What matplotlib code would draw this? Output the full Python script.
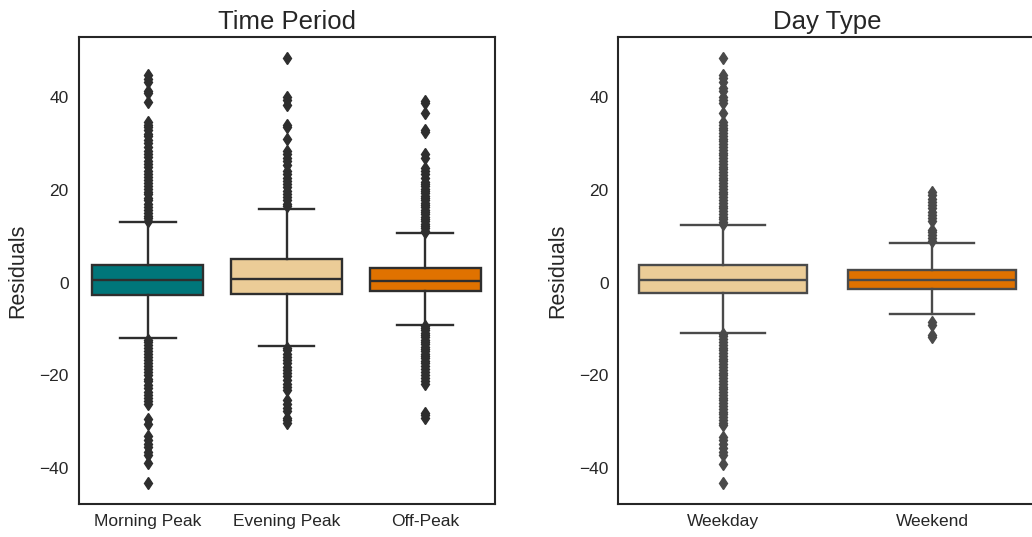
import matplotlib
matplotlib.use("Agg")
import matplotlib.pyplot as plt

# 残差箱线图：按时段 / 按日类型
plt.rcParams['font.family'] = ['Liberation Sans', 'DejaVu Sans']

period_names = ["Morning Peak", "Evening Peak", "Off-Peak"]
period_colors = ["#00767A", "#EBCC97", "#E07200"]
period_med = [0.5, 0.7, 0.4]
period_q1 = [-2.7, -2.4, -1.8]
period_q3 = [3.7, 5.0, 3.2]
period_lo = [-12.0, -13.7, -9.1]
period_hi = [13.0, 15.9, 10.7]
period_fliers = [
    [44.7, 43.8, 43.1, 41.3, 40.8, 38.8, 34.6, 34.0, 33.5, 32.8, 32.1, 31.5,
     30.8, 30.0, 29.2, 28.3, 27.6, 27.0, 26.2, 25.5, 24.8, 24.0, 23.4, 22.8,
     22.1, 21.5, 20.9, 20.2, 19.6, 19.0, 18.3, 17.7, 17.0, 16.3, 15.6, 15.0,
     14.4, 13.8, 13.3,
     -12.3, -12.8, -13.4, -14.0, -14.7, -15.3, -16.0, -16.6, -17.3, -18.0,
     -18.6, -19.3, -20.0, -20.7, -21.3, -22.0, -22.8, -23.5, -24.2, -24.9,
     -25.6, -26.2, -29.5, -30.4, -33.1, -34.0, -34.8, -35.5, -36.4, -37.2,
     -38.8, -43.1],
    [48.3, 39.9, 39.3, 38.3, 34.0, 33.5, 30.9, 28.4, 27.6, 26.9, 26.2, 25.4,
     24.0, 23.3, 22.6, 21.9, 21.2, 20.5, 19.8, 19.1, 18.4, 17.7, 17.0, 16.5,
     -14.0, -14.6, -15.3, -16.0, -16.7, -17.4, -18.1, -18.8, -19.5, -20.2,
     -21.0, -21.8, -22.5, -23.2, -25.4, -26.2, -27.0, -27.6, -29.1, -29.7,
     -30.2],
    [39.2, 38.6, 36.5, 32.8, 32.4, 27.6, 26.9, 24.7, 24.0, 23.3, 22.5, 21.7,
     21.2, 20.7, 20.2, 19.7, 19.2, 18.7, 18.2, 17.7, 17.2, 16.7, 16.2, 15.7,
     15.2, 14.7, 14.2, 13.7, 13.2, 12.7, 12.2, 11.7, 11.2, 10.9,
     -9.3, -9.8, -10.3, -10.8, -11.3, -11.8, -12.3, -12.8, -13.3, -13.8,
     -14.3, -14.8, -15.3, -15.8, -16.3, -16.8, -17.4, -18.0, -18.6, -19.3,
     -20.0, -20.6, -21.2, -21.8, -28.0, -28.6, -29.1],
]

day_names = ["Weekday", "Weekend"]
day_colors = ["#EBCC97", "#E07200"]
day_med = [0.5, 0.6]
day_q1 = [-2.3, -1.3]
day_q3 = [3.8, 2.65]
day_lo = [-10.9, -6.85]
day_hi = [12.5, 8.6]
day_fliers = [
    [48.3, 44.7, 44.0, 43.2, 42.0, 41.3, 40.0, 39.3, 38.7, 36.5, 34.6, 34.0,
     33.4, 32.8, 32.2, 31.6, 31.0, 30.4, 29.8, 29.2, 28.6, 28.0, 27.4, 26.8,
     26.2, 25.6, 25.0, 24.4, 23.8, 23.2, 22.6, 22.0, 21.4, 20.8, 20.2, 19.6,
     19.0, 18.4, 17.8, 17.2, 16.6, 16.0, 15.4, 14.8, 14.2, 13.6, 13.0, 12.7,
     -11.0, -11.6, -12.2, -12.8, -13.4, -14.0, -14.6, -15.2, -15.8, -16.4,
     -17.0, -17.6, -18.2, -18.8, -19.4, -20.0, -20.6, -21.2, -21.8, -22.4,
     -23.0, -23.6, -24.2, -24.8, -25.4, -26.0, -26.6, -27.2, -27.8, -28.4,
     -29.0, -29.6, -30.2, -30.6, -33.3, -34.0, -34.8, -35.6, -36.4, -37.2,
     -39.0, -43.1],
    [19.5, 18.8, 18.1, 17.4, 16.7, 16.0, 15.3, 14.6, 13.9, 13.2, 11.4, 10.8,
     10.2, 9.6, 9.0, -8.6, -9.2, -11.2, -11.8],
]


def make_stats(med, q1, q3, lo, hi, fliers):
    stats = []
    for i in range(len(med)):
        stats.append(dict(med=med[i], q1=q1[i], q3=q3[i],
                          whislo=lo[i], whishi=hi[i], fliers=fliers[i]))
    return stats


def draw_box(ax, names, colors, stats, line_color, title):
    lw = 1.7
    bp = ax.bxp(stats, positions=range(len(names)), widths=0.8,
                patch_artist=True, showfliers=True,
                boxprops=dict(edgecolor=line_color, linewidth=lw),
                medianprops=dict(color=line_color, linewidth=lw),
                whiskerprops=dict(color=line_color, linewidth=lw),
                capprops=dict(color=line_color, linewidth=lw),
                flierprops=dict(marker="d", markersize=6,
                                markerfacecolor=line_color,
                                markeredgecolor=line_color))
    for patch, c in zip(bp["boxes"], colors):
        patch.set_facecolor(c)
    ax.set_xlim(-0.5, len(names) - 0.5)
    ax.set_ylim(-47.7, 52.9)
    ax.set_xticks(range(len(names)))
    ax.set_xticklabels(names)
    ax.set_yticks([-40, -20, 0, 20, 40])
    ax.tick_params(axis="both", length=0, labelsize=12.5, colors="#262626", pad=7)
    ax.set_ylabel("Residuals", fontsize=15.5, color="#262626", labelpad=8)
    ax.set_title(title, fontsize=18.5, color="#262626", pad=6)
    for sp in ax.spines.values():
        sp.set_color("#262626")
        sp.set_linewidth(1.5)


fig = plt.figure(figsize=(10.32, 5.37), dpi=100)
ax1 = fig.add_axes([0.0761, 0.0615, 0.4031, 0.8696])
ax2 = fig.add_axes([0.5993, 0.0615, 0.4050, 0.8696])

draw_box(ax1, period_names, period_colors,
         make_stats(period_med, period_q1, period_q3, period_lo, period_hi, period_fliers),
         "#2e2e2e", "Time Period")
draw_box(ax2, day_names, day_colors,
         make_stats(day_med, day_q1, day_q3, day_lo, day_hi, day_fliers),
         "#4a4a4a", "Day Type")

plt.savefig("out.png", dpi=100)
